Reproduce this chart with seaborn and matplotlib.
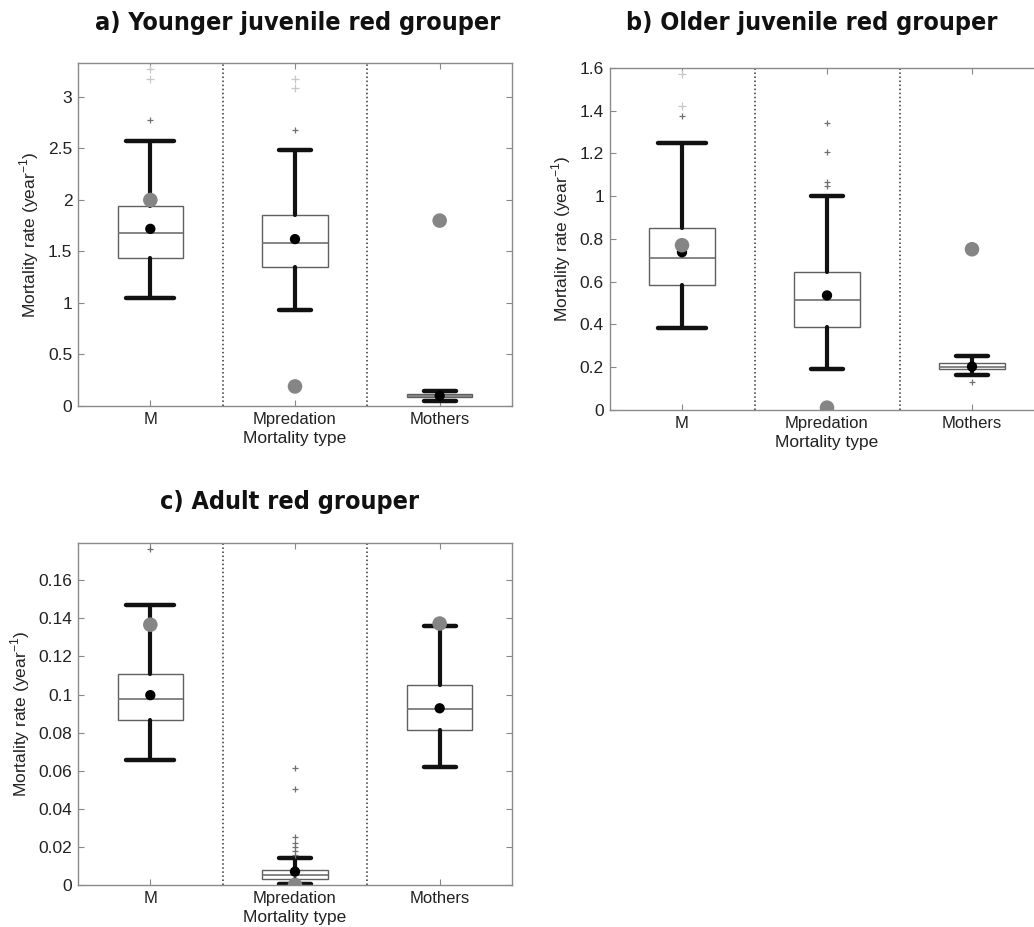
import matplotlib
matplotlib.use("Agg")
import matplotlib.pyplot as plt
import seaborn as sns
import pandas as pd

categories = ["M", "Mpredation", "Mothers"]

# Panel a) Younger juvenile
a_whislo = [1.05, 0.93, 0.05]
a_q1 = [1.44, 1.35, 0.085]
a_med = [1.68, 1.58, 0.10]
a_q3 = [1.94, 1.85, 0.115]
a_whishi = [2.57, 2.49, 0.15]
a_mean = [1.72, 1.62, 0.10]
a_ref = [2.00, 0.19, 1.80]
a_fliers = [[2.78], [2.68], []]
a_faint = [[3.17, 3.27], [3.09, 3.17], []]

# Panel b) Older juvenile
b_whislo = [0.383, 0.19, 0.164]
b_q1 = [0.587, 0.39, 0.192]
b_med = [0.713, 0.514, 0.200]
b_q3 = [0.852, 0.647, 0.218]
b_whishi = [1.25, 1.00, 0.254]
b_mean = [0.738, 0.536, 0.203]
b_ref = [0.771, 0.011, 0.752]
b_fliers = [[1.374], [1.048, 1.067, 1.207, 1.343], [0.132]]
b_faint = [[1.42, 1.573], [], []]

# Panel c) Adult
c_whislo = [0.0659, 0.0005, 0.0621]
c_q1 = [0.0866, 0.0030, 0.0813]
c_med = [0.0976, 0.0052, 0.0923]
c_q3 = [0.1109, 0.0079, 0.1050]
c_whishi = [0.1470, 0.0143, 0.1360]
c_mean = [0.0997, 0.0070, 0.0928]
c_ref = [0.1367, 0.0000, 0.1373]
c_fliers = [[0.1766], [0.016, 0.018, 0.020, 0.022, 0.025, 0.0502, 0.0613], []]
c_faint = [[], [], []]

a_ticks = [0, 0.5, 1, 1.5, 2, 2.5, 3]
b_ticks = [0, 0.2, 0.4, 0.6, 0.8, 1.0, 1.2, 1.4, 1.6]
c_ticks = [0, 0.02, 0.04, 0.06, 0.08, 0.1, 0.12, 0.14, 0.16]

sns.set_theme(style="white")
plt.rcParams["font.family"] = ["Liberation Sans", "DejaVu Sans"]
plt.rcParams["mathtext.fontset"] = "custom"
plt.rcParams["mathtext.rm"] = "Liberation Sans"

W, H = 1034, 927
fig = plt.figure(figsize=(W / 100, H / 100), dpi=100)
fig.patch.set_facecolor("white")


def px_axes(x0, y0, x1, y1):
    return fig.add_axes([x0 / W, 1 - y1 / H, (x1 - x0) / W, (y1 - y0) / H])


def panel(ax, whislo, q1, med, q3, whishi, mean, ref, fliers, faint, ymax, ticks, ticklabels):
    stats = []
    for i in range(3):
        stats.append(dict(label=categories[i], whislo=whislo[i], q1=q1[i], med=med[i],
                          q3=q3[i], whishi=whishi[i], fliers=fliers[i]))
    ax.bxp(stats, positions=[0, 1, 2], widths=0.45, capwidths=[0.33, 0.22, 0.22],
           patch_artist=True, showfliers=True,
           boxprops=dict(facecolor="white", edgecolor="#606060", linewidth=1.0),
           medianprops=dict(color="#707070", linewidth=1.2),
           whiskerprops=dict(color="#111111", linewidth=3.0),
           capprops=dict(color="#111111", linewidth=3.2),
           flierprops=dict(marker="+", markeredgecolor="#707070", markersize=5,
                           markeredgewidth=0.9),
           manage_ticks=False)
    fx, fy = [], []
    for i in range(3):
        for v in faint[i]:
            fx.append(i)
            fy.append(v)
    if fx:
        sns.scatterplot(x=fx, y=fy, marker="+", color="#c8c8c8", s=30, linewidth=0.9,
                        ax=ax, zorder=3, legend=False)
    dfm = pd.DataFrame({"x": [0, 1, 2], "mean": mean, "ref": ref})
    sns.scatterplot(data=dfm, x="x", y="mean", color="black", s=55, edgecolor="none",
                    ax=ax, zorder=5, legend=False, clip_on=False)
    sns.scatterplot(data=dfm, x="x", y="ref", color="#858585", s=110, edgecolor="none",
                    ax=ax, zorder=6, legend=False)
    for xv in (0.5, 1.5):
        ax.axvline(xv, color="#333333", ls=":", lw=1.1, zorder=1)
    ax.set_xlim(-0.5, 2.5)
    ax.set_ylim(0, ymax)
    ax.set_xticks([0, 1, 2])
    ax.set_xticklabels(categories, fontsize=12, color="#222222")
    ax.set_yticks(ticks)
    ax.set_yticklabels(ticklabels, fontsize=12.5, color="#222222")
    ax.tick_params(direction="in", length=4, width=0.8, color="#888888",
                   top=True, right=True, bottom=True, left=True, pad=4)
    for s in ax.spines.values():
        s.set_color("#8a8a8a")
        s.set_linewidth(1.0)
    ax.set_ylabel("Mortality rate (year$^{-1}$)", fontsize=12.5, color="#222222", labelpad=5)
    ax.set_xlabel("Mortality type", fontsize=12.5, color="#222222", labelpad=3)


axa = px_axes(78, 63, 512, 406)
panel(axa, a_whislo, a_q1, a_med, a_q3, a_whishi, a_mean, a_ref, a_fliers, a_faint, 3.33,
      a_ticks, ["0", "0.5", "1", "1.5", "2", "2.5", "3"])

axb = px_axes(609.5, 68, 1044.5, 410)
panel(axb, b_whislo, b_q1, b_med, b_q3, b_whishi, b_mean, b_ref, b_fliers, b_faint, 1.6,
      b_ticks, ["0", "0.2", "0.4", "0.6", "0.8", "1", "1.2", "1.4", "1.6"])

axc = px_axes(78, 543, 512, 885)
panel(axc, c_whislo, c_q1, c_med, c_q3, c_whishi, c_mean, c_ref, c_fliers, c_faint, 0.1796,
      c_ticks, ["0", "0.02", "0.04", "0.06", "0.08", "0.1", "0.12", "0.14", "0.16"])

tkw = dict(fontsize=18, fontweight="bold", fontstretch="condensed", family="DejaVu Sans",
           ha="center", va="center", color="#111111")
fig.text(298 / W, 1 - 23 / H, "a) Younger juvenile red grouper", **tkw)
fig.text(812 / W, 1 - 23 / H, "b) Older juvenile red grouper", **tkw)
fig.text(290 / W, 1 - 502 / H, "c) Adult red grouper", **tkw)

fig.savefig("out.png", dpi=100, facecolor="white")
